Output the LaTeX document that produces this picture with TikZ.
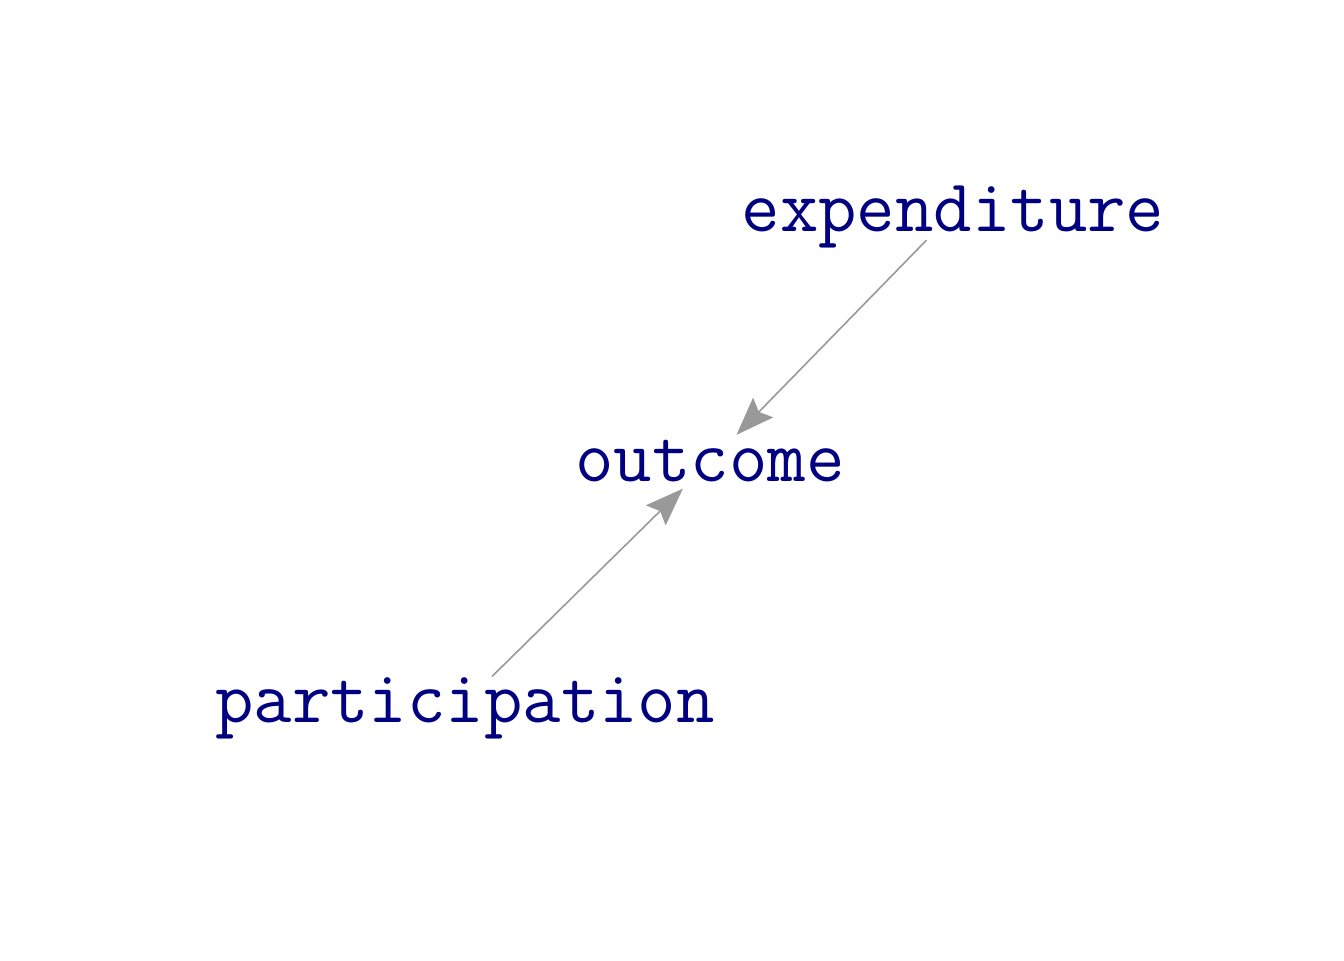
\documentclass[tikz,border=0pt]{standalone}
\usepackage{fontspec}
\usetikzlibrary{arrows.meta}
\definecolor{navy}{RGB}{0,0,128}
\definecolor{edgegray}{RGB}{153,153,153}
\begin{document}
\begin{tikzpicture} [x=1pt,y=1pt,myv/.style={anchor=base, inner sep=0pt, text height=19pt, text depth=0pt, text=navy, font=\fontsize{37.3}{40}\selectfont\ttfamily},mye/.style={draw=edgegray, line width=0.8pt, -{Stealth[length=19pt,width=14pt,inset=3pt]}, shorten <=19pt, shorten >=19pt}]
  \useasboundingbox (0,0) rectangle (672,480);

  \node[myv] (expenditure) at (476.5,364) {expenditure};
  \node[myv] (outcome) at (355,239.5) {outcome};
  \node[myv] (participation) at (232.5,119) {participation};

    \draw[mye] (expenditure.center) -- (outcome.center);
    \draw[mye] (participation.center) -- (outcome.center);

\end{tikzpicture}
\end{document}
